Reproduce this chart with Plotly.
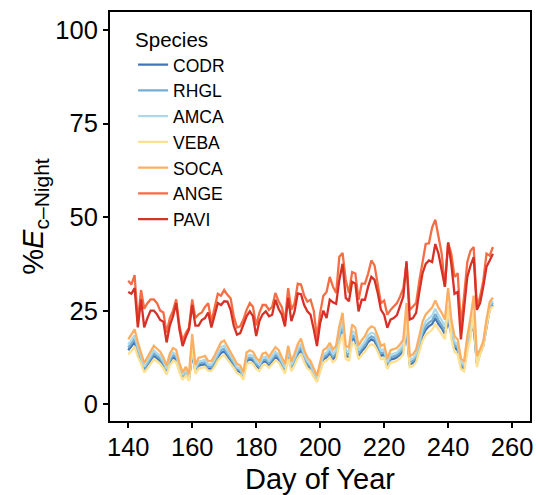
import plotly.graph_objects as go

days = list(range(140, 255))

PAVI = [30, 29.5, 31, 20.5, 28, 20.5, 23, 25, 25, 24, 22.5, 22, 16.5, 21, 23.5, 27, 20, 15.5, 18, 20,
        26.5, 21, 21, 22.5, 23, 24.5, 20.5, 23.5, 27, 26.5, 27.5, 27.4, 25.2, 21, 18.6, 19, 21.3, 23.5, 24.8, 23.5,
        18.2, 22.2, 24, 24.8, 23.5, 23.9, 27.9, 25.5, 24, 20.8, 28.4, 22.2, 24.8, 29.6, 29.4, 26.5, 24.8, 23.9, 20, 15.5,
        21.7, 25, 23, 27.9, 27.2, 26.8, 33.2, 37.5, 28.4, 27.5, 32.7, 32.2, 24.8, 27.9, 27.9, 31.4, 34, 33.2, 29.7, 25.2,
        23.9, 20.4, 22.6, 23, 23.8, 26.1, 28.8, 38.2, 22.6, 23, 24.4, 30, 35, 37.5, 38.4, 38, 42.8, 40.2, 35.8, 31.4,
        43.2, 37.5, 29.5, 30, 17.3, 25.2, 34, 37, 39.3, 25.2, 27, 31.4, 36.7, 38.4, 40.2]

ANGE = [33, 32, 34.5, 22, 30.5, 25.5, 27, 28, 28, 27, 25, 24.5, 19, 23, 25, 28, 21, 17, 19, 20.5,
        28, 23, 24, 24.5, 26, 27, 22, 26, 29.5, 29, 30.5, 29.2, 28.3, 23.5, 20.5, 20.8, 22.6, 25.2, 27, 26,
        21, 24.4, 26.5, 26.5, 25.2, 26, 29.7, 27.5, 26, 22.2, 31, 25.2, 27, 32.2, 32, 29, 27.4, 27.9, 25, 17.7,
        24.4, 29, 30, 34, 31.4, 29.7, 39.4, 40.4, 33.2, 29.7, 35.3, 34.9, 27.9, 32.2, 32.2, 34.9, 38.4, 37.1, 32.2, 27,
        27.7, 23.9, 25.2, 26, 27, 28.8, 31, 37.7, 25.2, 26.1, 27, 33, 38, 42.8, 43, 47.2, 49.3, 44.6, 40.2, 31.4,
        43.2, 40.2, 34, 35, 21, 29, 38, 41, 42, 26, 28.8, 33, 40.2, 39.7, 42]

SOCA = [17.3, 18.5, 20, 16.5, 14, 11, 12.5, 14, 15.6, 14.8, 14, 12.5, 10.3, 13.5, 15, 14.5, 11, 8.5, 10, 8,
        18.7, 10.5, 12.4, 12.6, 12.9, 11.5, 11.5, 13, 15, 16.5, 17, 15.5, 14.2, 12.6, 10.8, 10.3, 8.5, 13.8, 14.4, 14,
        12.4, 11.5, 13.5, 13.8, 12.6, 14, 15.2, 14.5, 12.5, 10.7, 15.6, 11.4, 13.5, 16, 17.5, 14.5, 12.5, 11.5, 9.5, 7.6,
        11.2, 14.5, 15, 16.4, 14.6, 15.6, 20.8, 24.4, 15.6, 15.2, 21.3, 20.4, 15.6, 17.1, 18.2, 20, 20.8, 20.4, 18.2, 15.6,
        16, 12.2, 14.4, 14.6, 15, 16, 17.3, 27, 12.9, 13.3, 14.6, 18.2, 22, 24, 25, 25.8, 27.7, 25.8, 24.4, 22.6,
        31, 22.6, 18.2, 17.3, 12.2, 11.4, 18.2, 23, 29, 12.9, 14.6, 16.8, 22.6, 27.3, 28.5]

AMCA = [15.9, 17.0, 18.4, 15.2, 12.9, 10.1, 11.5, 12.9, 14.4, 13.6, 12.9, 11.5, 9.5, 12.4, 13.8, 13.3, 10.1, 7.8, 9.2, 7.4,
        15.0, 9.7, 11.4, 11.6, 11.9, 10.6, 10.6, 12.0, 13.8, 15.2, 15.6, 14.3, 13.1, 11.6, 9.9, 9.5, 7.8, 12.7, 13.2, 12.9,
        11.4, 10.6, 12.4, 12.7, 11.6, 12.9, 14.0, 13.3, 11.5, 9.8, 14.4, 10.5, 12.4, 14.7, 16.1, 13.3, 11.5, 10.6, 8.7, 7.0,
        10.3, 13.3, 13.8, 15.1, 13.4, 14.4, 19.1, 22.4, 14.4, 14.0, 19.6, 18.8, 14.4, 15.7, 16.7, 18.4, 19.1, 18.8, 16.7, 14.4,
        14.7, 11.2, 13.2, 13.4, 13.8, 14.7, 15.9, 21.6, 11.9, 12.2, 13.4, 16.7, 20.2, 22.1, 23.0, 23.7, 25.5, 23.7, 22.4, 20.8,
        24.8, 20.8, 16.7, 15.9, 11.2, 10.5, 16.7, 21.2, 23.2, 11.9, 14.2, 16.3, 21.9, 26.5, 27.6]

RHGL = [15.1, 16.1, 17.4, 14.4, 12.2, 9.6, 10.9, 12.2, 13.6, 12.9, 12.2, 10.9, 9.0, 11.7, 13.1, 12.6, 9.6, 7.4, 8.7, 7.0,
        14.0, 9.1, 10.8, 11.0, 11.2, 10.0, 10.0, 11.3, 13.1, 14.4, 14.8, 13.5, 12.4, 11.0, 9.4, 9.0, 7.4, 12.0, 12.5, 12.2,
        10.8, 10.0, 11.7, 12.0, 11.0, 12.2, 13.2, 12.6, 10.9, 9.3, 13.6, 9.9, 11.7, 13.9, 15.2, 12.6, 10.9, 10.0, 8.3, 6.6,
        9.7, 12.6, 13.1, 14.3, 12.7, 13.6, 18.1, 21.2, 13.6, 13.2, 18.5, 17.7, 13.6, 14.9, 15.8, 17.4, 18.1, 17.7, 15.8, 13.6,
        13.9, 10.6, 12.5, 12.7, 13.1, 13.9, 15.1, 20.3, 11.2, 11.6, 12.7, 15.8, 19.1, 20.9, 21.8, 22.4, 24.1, 22.4, 21.2, 19.7,
        23.3, 19.7, 15.8, 15.1, 10.6, 9.9, 15.8, 20.0, 21.8, 11.2, 13.9, 16.0, 21.5, 25.9, 27.1]

CODR = [14.4, 15.4, 16.6, 13.7, 11.6, 9.1, 10.4, 11.6, 12.9, 12.3, 11.6, 10.4, 8.5, 11.2, 12.5, 12.0, 9.1, 7.1, 8.3, 6.6,
        13.5, 8.7, 10.3, 10.5, 10.7, 9.5, 9.5, 10.8, 12.5, 13.7, 14.1, 12.9, 11.8, 10.5, 9.0, 8.5, 7.1, 11.5, 12.0, 11.6,
        10.3, 9.5, 11.2, 11.5, 10.5, 11.6, 12.6, 12.0, 10.4, 8.9, 12.9, 9.5, 11.2, 13.3, 14.5, 12.0, 10.4, 9.5, 7.9, 6.3,
        9.3, 12.0, 12.5, 13.6, 12.1, 12.9, 17.3, 20.3, 12.9, 12.6, 17.7, 16.9, 12.9, 14.2, 15.1, 16.6, 17.3, 16.9, 15.1, 12.9,
        13.3, 10.1, 12.0, 12.1, 12.5, 13.3, 14.4, 19.4, 10.7, 11.0, 12.1, 15.1, 18.3, 19.9, 20.8, 21.4, 23.0, 21.4, 20.3, 18.8,
        22.3, 18.8, 15.1, 14.4, 10.1, 9.5, 15.1, 19.1, 20.9, 10.7, 13.6, 15.6, 21.0, 25.4, 26.5]

VEBA = [13.3, 14.2, 15.4, 12.7, 10.8, 8.5, 9.6, 10.8, 12.0, 11.4, 10.8, 9.6, 7.9, 10.4, 11.6, 11.2, 8.5, 6.5, 7.7, 6.2,
        15.9, 8.1, 9.5, 9.7, 9.9, 8.9, 8.9, 10.0, 11.6, 12.7, 13.1, 11.9, 10.9, 9.7, 8.3, 7.9, 6.5, 10.6, 11.1, 10.8,
        9.5, 8.9, 10.4, 10.6, 9.7, 10.8, 11.7, 11.2, 9.6, 8.2, 12.0, 8.8, 10.4, 12.3, 13.5, 11.2, 9.6, 8.9, 7.3, 5.9,
        8.6, 11.2, 11.6, 12.6, 11.2, 12.0, 16.0, 18.8, 12.0, 11.7, 16.4, 15.7, 12.0, 13.2, 14.0, 15.4, 16.0, 15.7, 14.0, 12.0,
        12.3, 9.4, 11.1, 11.2, 11.6, 12.3, 13.3, 23.0, 9.9, 10.2, 11.2, 14.0, 16.9, 18.5, 19.3, 19.9, 21.3, 19.9, 18.8, 17.4,
        26.4, 17.4, 14.0, 13.3, 9.4, 8.8, 14.0, 17.7, 24.7, 9.9, 13.4, 15.5, 20.8, 25.1, 26.2]

species = ["CODR", "RHGL", "AMCA", "VEBA", "SOCA", "ANGE", "PAVI"]
values = [CODR, RHGL, AMCA, VEBA, SOCA, ANGE, PAVI]
colors = ["#4575b4", "#74add1", "#abd9e9", "#fee090", "#fdae61", "#f46d43", "#d73027"]

x_ticks = [140, 160, 180, 200, 220, 240, 260]
y_ticks = [0, 25, 50, 75, 100]

FONT = "Liberation Sans, Arial, Helvetica, sans-serif"

fig = go.Figure()
for name, vals, col in zip(species, values, colors):
    fig.add_trace(go.Scatter(x=days, y=vals, mode="lines", name=name,
                             line=dict(color=col, width=2.3)))

fig.update_layout(
    width=538, height=495,
    margin=dict(l=110, r=5, t=12, b=69),
    paper_bgcolor="white", plot_bgcolor="white",
    font=dict(family=FONT, color="black"),
    showlegend=True,
    legend=dict(
        title=dict(text="Species", font=dict(size=20.5, family=FONT, color="black")),
        font=dict(size=17.5, family=FONT, color="black"),
        x=0.055, y=0.98, xanchor="left", yanchor="top",
        bgcolor="rgba(0,0,0,0)", borderwidth=0,
        itemwidth=30,
    ),
    xaxis=dict(
        range=[134.3, 265.6], tickvals=x_ticks, ticktext=[str(v) for v in x_ticks],
        showgrid=False, zeroline=False,
        showline=True, linecolor="black", linewidth=2, mirror=True,
        ticks="outside", ticklen=5, tickwidth=1.5, tickcolor="black",
        tickfont=dict(size=25.5, family=FONT, color="black"),
        ticklabelstandoff=-3,
        title=dict(text="Day of Year", font=dict(size=29, family=FONT, color="black"), standoff=9),
    ),
    yaxis=dict(
        range=[-4.5, 104.8], tickvals=y_ticks, ticktext=[str(v) for v in y_ticks],
        showgrid=False, zeroline=False,
        showline=True, linecolor="black", linewidth=2, mirror=True,
        ticks="outside", ticklen=5, tickwidth=1.5, tickcolor="black",
        tickfont=dict(size=25.5, family=FONT, color="black"),
        title=dict(text="%<i>E</i><sub><span style=\"font-size:21px\">c–Night</span></sub>",
                   font=dict(size=29, family=FONT, color="black"), standoff=3),
    ),
)

fig.write_html("out.html", config={"displayModeBar": False},
               post_script="document.body.style.margin='0px';document.body.style.overflow='hidden';")
